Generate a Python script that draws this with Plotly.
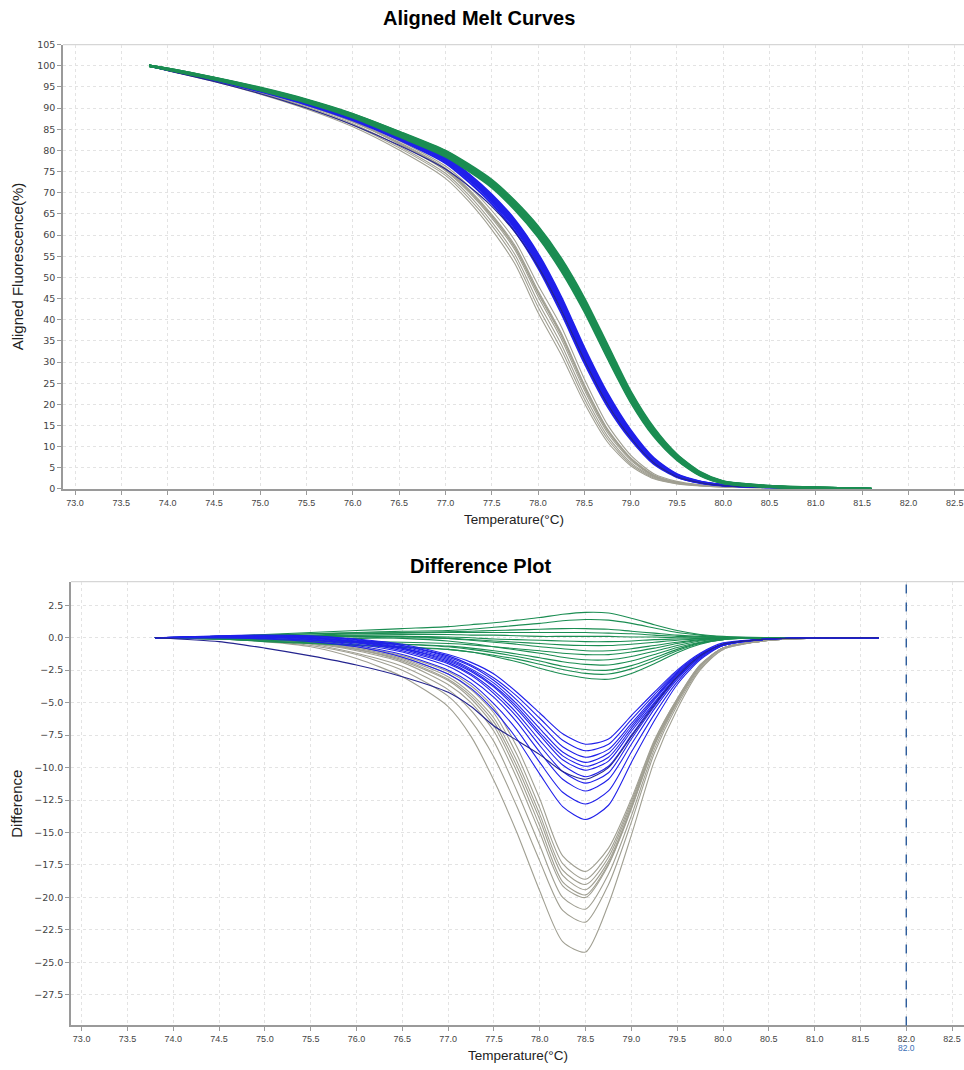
import plotly.graph_objects as go

# ---------------- data ----------------
# Aligned melt curves (top): temperature grid and aligned fluorescence (%)
T_MELT = [73.8, 74.0, 74.5, 75.0, 75.5, 76.0, 76.5, 77.0, 77.25, 77.5, 77.75, 78.0,
          78.25, 78.5, 78.75, 79.0, 79.25, 79.5, 79.75, 80.0, 80.5, 81.0, 81.6]

GRAY_MELT = [
    [100, 99.1, 96.8, 94.1, 91.0, 87.2, 82.3, 76.3, 71.6, 65.8, 58.7, 48.2, 38.4, 26.0, 15.2, 8.0, 3.6, 1.8, 1.0, 0.6, 0.4, 0.2, 0.0],
    [100, 99.0, 96.7, 94.0, 90.8, 86.9, 81.9, 75.8, 70.9, 64.9, 57.6, 46.9, 36.9, 24.7, 14.2, 7.4, 3.3, 1.6, 0.9, 0.6, 0.4, 0.2, 0.0],
    [100, 99.0, 96.6, 93.8, 90.6, 86.7, 81.5, 75.2, 70.2, 64.0, 56.5, 45.5, 35.5, 23.4, 13.3, 6.8, 3.0, 1.5, 0.9, 0.6, 0.4, 0.2, 0.0],
    [100, 98.9, 96.5, 93.6, 90.3, 86.3, 81.0, 74.6, 69.5, 63.1, 55.4, 44.2, 34.2, 22.3, 12.5, 6.3, 2.8, 1.4, 0.8, 0.5, 0.3, 0.2, 0.0],
    [100, 98.9, 96.4, 93.5, 90.1, 86.0, 80.6, 74.1, 68.8, 62.3, 54.4, 43.0, 33.0, 21.3, 11.8, 5.9, 2.6, 1.3, 0.8, 0.5, 0.3, 0.2, 0.0],
    [100, 99.0, 96.6, 93.9, 90.7, 86.8, 81.7, 75.5, 70.5, 64.4, 57.0, 46.2, 36.2, 24.0, 13.8, 7.1, 3.1, 1.5, 0.9, 0.6, 0.4, 0.2, 0.0],
    [100, 98.8, 96.3, 93.3, 89.8, 85.6, 80.1, 73.4, 68.0, 61.3, 53.2, 41.7, 31.7, 20.3, 11.1, 5.5, 2.4, 1.2, 0.7, 0.5, 0.3, 0.2, 0.0],
    [100, 99.0, 96.7, 93.9, 90.7, 86.8, 81.7, 75.6, 70.7, 64.6, 57.2, 46.5, 36.6, 24.4, 14.0, 7.2, 3.2, 1.6, 0.9, 0.6, 0.4, 0.2, 0.0],
]

BLUE_MELT = [
    [100, 99.2, 97.0, 94.5, 91.6, 88.1, 83.7, 78.6, 74.5, 69.6, 63.6, 55.6, 45.4, 33.4, 22.6, 13.9, 7.3, 3.5, 1.8, 1.0, 0.5, 0.25, 0.0],
    [100, 99.1, 96.9, 94.3, 91.4, 87.8, 83.4, 78.2, 74.1, 69.1, 63.0, 54.8, 44.5, 32.5, 21.8, 13.3, 6.9, 3.3, 1.7, 0.9, 0.5, 0.25, 0.0],
    [100, 99.1, 96.8, 94.2, 91.2, 87.6, 83.1, 77.8, 73.6, 68.5, 62.3, 54.0, 43.5, 31.5, 21.0, 12.8, 6.6, 3.1, 1.6, 0.9, 0.5, 0.25, 0.0],
    [100, 99.1, 96.7, 94.0, 91.0, 87.3, 82.8, 77.4, 73.1, 68.0, 61.6, 53.1, 42.5, 30.6, 20.2, 12.2, 6.2, 2.9, 1.5, 0.8, 0.4, 0.2, 0.0],
    [100, 99.0, 96.6, 93.9, 90.8, 87.1, 82.5, 77.0, 72.6, 67.4, 60.9, 52.3, 41.6, 29.8, 19.5, 11.7, 5.9, 2.8, 1.4, 0.8, 0.4, 0.2, 0.0],
    [100, 99.1, 96.9, 94.4, 91.5, 87.9, 83.5, 78.4, 74.3, 69.3, 63.3, 55.2, 44.9, 32.9, 22.2, 13.6, 7.1, 3.4, 1.7, 1.0, 0.5, 0.25, 0.0],
    [100, 99.0, 96.7, 94.1, 91.1, 87.4, 82.9, 77.6, 73.3, 68.2, 61.9, 53.5, 43.0, 31.0, 20.6, 12.5, 6.4, 3.0, 1.5, 0.9, 0.4, 0.2, 0.0],
    [100, 99.1, 96.8, 94.2, 91.3, 87.7, 83.3, 78.0, 73.8, 68.8, 62.6, 54.4, 44.0, 32.0, 21.4, 13.0, 6.8, 3.2, 1.6, 0.9, 0.5, 0.25, 0.0],
]
NAVY_MELT = [
    [100, 98.9, 96.3, 93.4, 90.0, 86.0, 81.2, 75.6, 71.6, 66.8, 60.7, 52.6, 42.3, 30.5, 20.1, 12.1, 6.2, 2.9, 1.5, 0.8, 0.4, 0.2, 0.0],
]

GREEN_MELT = [
    [100, 99.3, 97.2, 94.8, 92.0, 88.6, 84.4, 79.9, 76.7, 73.0, 68.0, 62.0, 54.4, 45.0, 34.0, 23.0, 14.4, 8.1, 4.0, 1.8, 0.7, 0.3, 0.0],
    [100, 99.3, 97.1, 94.7, 91.9, 88.4, 84.2, 79.6, 76.4, 72.6, 67.5, 61.4, 53.7, 44.2, 33.2, 22.4, 13.9, 7.8, 3.8, 1.7, 0.6, 0.3, 0.0],
    [100, 99.2, 97.0, 94.5, 91.7, 88.2, 83.9, 79.3, 76.0, 72.2, 67.0, 60.8, 53.0, 43.5, 32.5, 21.8, 13.5, 7.5, 3.6, 1.6, 0.6, 0.3, 0.0],
    [100, 99.2, 96.9, 94.4, 91.5, 88.0, 83.6, 79.0, 75.6, 71.8, 66.5, 60.2, 52.3, 42.8, 31.8, 21.2, 13.0, 7.2, 3.4, 1.5, 0.6, 0.3, 0.0],
    [100, 99.1, 96.8, 94.2, 91.3, 87.8, 83.3, 78.6, 75.2, 71.3, 66.0, 59.6, 51.6, 42.0, 31.0, 20.6, 12.5, 6.9, 3.2, 1.4, 0.5, 0.2, 0.0],
    [100, 99.2, 97.0, 94.6, 91.8, 88.3, 84.0, 79.4, 76.2, 72.4, 67.3, 61.1, 53.4, 43.9, 32.9, 22.1, 13.7, 7.6, 3.7, 1.6, 0.6, 0.3, 0.0],
    [100, 99.1, 96.9, 94.3, 91.4, 87.9, 83.5, 78.8, 75.4, 71.6, 66.3, 59.9, 52.0, 42.4, 31.4, 20.9, 12.8, 7.0, 3.3, 1.4, 0.5, 0.2, 0.0],
    [100, 99.3, 97.1, 94.6, 91.9, 88.5, 84.3, 79.8, 76.5, 72.8, 67.8, 61.7, 54.0, 44.6, 33.6, 22.7, 14.1, 8.0, 3.9, 1.7, 0.7, 0.3, 0.0],
]

# Difference plot (bottom)
T_DIFF = [73.8, 74.5, 75.0, 75.5, 76.0, 76.5, 77.0, 77.25, 77.5, 77.75, 78.0, 78.25,
          78.5, 78.75, 79.0, 79.25, 79.5, 79.75, 80.0, 80.5, 81.0, 81.7]

GRAY_DIFF = [
    [0, -0.1, -0.3, -0.7, -1.6, -3.0, -5.3, -7.6, -11.0, -15.0, -19.5, -23.4, -24.2, -20.5, -15.2, -9.5, -5.5, -2.5, -0.9, -0.2, -0.03, 0],
    [0, -0.1, -0.25, -0.6, -1.3, -2.5, -4.5, -6.4, -9.2, -13.0, -17.2, -21.0, -21.9, -19.0, -14.2, -8.9, -5.2, -2.4, -0.9, -0.2, -0.03, 0],
    [0, -0.1, -0.2, -0.5, -1.2, -2.2, -4.0, -5.6, -8.0, -11.8, -16.0, -20.0, -20.9, -18.2, -13.7, -8.6, -5.0, -2.3, -0.8, -0.2, -0.03, 0],
    [0, -0.1, -0.2, -0.45, -1.0, -1.9, -3.6, -5.0, -7.2, -10.8, -15.0, -19.1, -20.0, -17.5, -13.2, -8.3, -4.9, -2.2, -0.8, -0.2, -0.03, 0],
    [0, -0.1, -0.2, -0.4, -0.9, -1.8, -3.3, -4.7, -6.8, -10.3, -14.5, -18.8, -19.8, -17.4, -13.1, -8.3, -4.9, -2.2, -0.8, -0.2, -0.03, 0],
    [0, -0.05, -0.15, -0.4, -0.9, -1.7, -3.2, -4.5, -6.5, -9.9, -14.0, -18.3, -19.4, -17.2, -13.0, -8.2, -4.8, -2.2, -0.8, -0.2, -0.03, 0],
    [0, -0.05, -0.15, -0.35, -0.8, -1.6, -3.0, -4.3, -6.2, -9.5, -13.6, -17.9, -19.0, -16.9, -12.8, -8.1, -4.8, -2.2, -0.8, -0.2, -0.03, 0],
    [0, -0.05, -0.1, -0.3, -0.7, -1.5, -2.8, -4.0, -5.8, -9.0, -13.1, -17.4, -18.6, -16.6, -12.6, -8.0, -4.7, -2.1, -0.8, -0.2, -0.03, 0],
    [0, -0.05, -0.1, -0.3, -0.7, -1.4, -2.6, -3.7, -5.4, -8.4, -12.4, -16.8, -18.0, -16.2, -12.4, -7.9, -4.7, -2.1, -0.8, -0.2, -0.03, 0],
]

BLUE_DIFF = [
    [0, 0.15, 0.2, 0.15, -0.1, -0.5, -1.3, -1.9, -2.8, -4.2, -5.8, -7.4, -8.2, -7.8, -6.0, -4.2, -2.5, -1.2, -0.4, -0.1, -0.02, 0],
    [0, 0.1, 0.15, 0.1, -0.15, -0.6, -1.4, -2.1, -3.1, -4.5, -6.2, -7.9, -8.7, -8.2, -6.3, -4.4, -2.6, -1.3, -0.5, -0.1, -0.02, 0],
    [0, 0.1, 0.15, 0.05, -0.2, -0.6, -1.5, -2.2, -3.3, -4.8, -6.6, -8.4, -9.2, -8.6, -6.6, -4.6, -2.7, -1.3, -0.5, -0.1, -0.02, 0],
    [0, 0.1, 0.1, 0.0, -0.25, -0.7, -1.6, -2.4, -3.5, -5.1, -7.0, -8.8, -9.6, -8.9, -6.8, -4.7, -2.8, -1.3, -0.5, -0.1, -0.02, 0],
    [0, 0.05, 0.1, 0.0, -0.3, -0.8, -1.7, -2.5, -3.7, -5.3, -7.3, -9.1, -9.9, -9.2, -7.0, -4.8, -2.8, -1.4, -0.5, -0.1, -0.02, 0],
    [0, 0.1, 0.1, 0.0, -0.3, -0.8, -1.8, -2.6, -3.8, -5.5, -7.5, -9.4, -10.2, -9.5, -7.2, -5.0, -2.9, -1.4, -0.5, -0.1, -0.02, 0],
    [0, 0.05, 0.05, -0.05, -0.35, -0.9, -1.9, -2.8, -4.1, -5.8, -7.9, -9.8, -10.7, -9.9, -7.5, -5.1, -3.0, -1.4, -0.5, -0.1, -0.02, 0],
    [0, 0.05, 0.05, -0.1, -0.4, -1.0, -2.0, -2.9, -4.3, -6.1, -8.3, -10.3, -11.2, -10.4, -7.8, -5.3, -3.1, -1.5, -0.6, -0.1, -0.02, 0],
    [0, 0.0, 0.0, -0.15, -0.5, -1.1, -2.2, -3.2, -4.6, -6.5, -8.8, -10.9, -11.8, -10.9, -8.2, -5.5, -3.2, -1.5, -0.6, -0.1, -0.02, 0],
    [0, 0.0, -0.05, -0.2, -0.6, -1.3, -2.5, -3.5, -5.1, -7.1, -9.6, -11.9, -12.8, -11.8, -8.8, -5.9, -3.4, -1.6, -0.6, -0.1, -0.02, 0],
    [0, 0.0, -0.1, -0.3, -0.7, -1.5, -2.8, -3.9, -5.6, -7.8, -10.5, -13.0, -14.0, -12.9, -9.6, -6.4, -3.6, -1.7, -0.6, -0.1, -0.02, 0],
]
NAVY_DIFF = [
    [0, -0.3, -0.8, -1.4, -2.1, -3.0, -4.2, -5.3, -6.8, -7.9, -9.0, -10.3, -10.9, -10.0, -7.6, -5.2, -3.0, -1.4, -0.5, -0.1, -0.02, 0],
]

GREEN_DIFF = [
    [0, 0.1, 0.25, 0.4, 0.55, 0.7, 0.85, 1.0, 1.15, 1.35, 1.55, 1.8, 1.95, 1.9, 1.5, 1.0, 0.55, 0.25, 0.1, 0, 0, 0],
    [0, 0.05, 0.15, 0.3, 0.4, 0.5, 0.55, 0.65, 0.8, 0.95, 1.1, 1.3, 1.4, 1.35, 1.1, 0.75, 0.4, 0.2, 0.05, 0, 0, 0],
    [0, 0.1, 0.2, 0.3, 0.35, 0.4, 0.45, 0.5, 0.55, 0.6, 0.65, 0.7, 0.7, 0.65, 0.5, 0.35, 0.2, 0.1, 0.05, 0, 0, 0],
    [0, 0.0, 0.1, 0.2, 0.3, 0.35, 0.4, 0.4, 0.4, 0.4, 0.4, 0.4, 0.4, 0.35, 0.3, 0.2, 0.1, 0.05, 0, 0, 0, 0],
    [0, 0.05, 0.1, 0.15, 0.2, 0.25, 0.25, 0.2, 0.2, 0.15, 0.1, 0.1, 0.1, 0.1, 0.05, 0.05, 0, 0, 0, 0, 0, 0],
    [0, 0.0, 0.0, 0.05, 0.1, 0.1, 0.05, 0.0, -0.1, -0.15, -0.2, -0.25, -0.3, -0.3, -0.25, -0.15, -0.1, -0.05, 0, 0, 0, 0],
    [0, -0.05, -0.1, -0.1, -0.05, 0.0, -0.05, -0.15, -0.25, -0.35, -0.45, -0.55, -0.6, -0.6, -0.5, -0.35, -0.2, -0.1, 0, 0, 0, 0],
    [0, 0.05, 0.05, 0.1, 0.15, 0.1, -0.05, -0.2, -0.35, -0.5, -0.7, -0.85, -1.0, -1.0, -0.85, -0.6, -0.35, -0.15, -0.05, 0, 0, 0],
    [0, -0.05, -0.1, -0.2, -0.3, -0.35, -0.45, -0.55, -0.7, -0.85, -1.0, -1.2, -1.3, -1.3, -1.1, -0.8, -0.45, -0.2, -0.05, 0, 0, 0],
    [0, 0.05, 0.1, 0.1, 0.05, -0.05, -0.25, -0.45, -0.7, -0.95, -1.2, -1.5, -1.7, -1.7, -1.45, -1.05, -0.6, -0.25, -0.1, 0, 0, 0],
    [0, -0.1, -0.2, -0.3, -0.4, -0.5, -0.65, -0.8, -1.0, -1.25, -1.55, -1.85, -2.05, -2.1, -1.8, -1.3, -0.75, -0.35, -0.1, 0, 0, 0],
    [0, -0.05, -0.15, -0.25, -0.35, -0.5, -0.7, -0.9, -1.15, -1.45, -1.8, -2.2, -2.45, -2.5, -2.15, -1.55, -0.9, -0.4, -0.15, 0, 0, 0],
    [0, -0.1, -0.25, -0.4, -0.55, -0.7, -0.9, -1.1, -1.35, -1.65, -2.05, -2.45, -2.75, -2.8, -2.4, -1.75, -1.0, -0.45, -0.15, 0, 0, 0],
    [0, -0.1, -0.3, -0.45, -0.6, -0.75, -0.9, -1.1, -1.45, -1.85, -2.35, -2.8, -3.1, -3.2, -2.75, -2.0, -1.15, -0.5, -0.15, 0, 0, 0],
]

X_TICKS = [73.0, 73.5, 74.0, 74.5, 75.0, 75.5, 76.0, 76.5, 77.0, 77.5, 78.0,
           78.5, 79.0, 79.5, 80.0, 80.5, 81.0, 81.5, 82.0, 82.5]
MELT_Y_TICKS = [0, 5, 10, 15, 20, 25, 30, 35, 40, 45, 50, 55, 60, 65, 70, 75, 80, 85, 90, 95, 100, 105]
DIFF_Y_TICKS = [2.5, 0.0, -2.5, -5.0, -7.5, -10.0, -12.5, -15.0, -17.5, -20.0, -22.5, -25.0, -27.5]
MARKER_TEMP = 82.0

# ---------------- styles ----------------
GRAY = "#a09f92"
BLUE = "#2020ea"
NAVY = "#24248f"
GREEN = "#1b8d52"

fig = go.Figure()


def add_group(xs, groups, color, width, xa, ya):
    for ys in groups:
        fig.add_trace(go.Scatter(x=xs, y=ys, mode="lines", xaxis=xa, yaxis=ya,
                                 line=dict(color=color, width=width, shape="spline", smoothing=0.7),
                                 hoverinfo="skip", showlegend=False))


add_group(T_MELT, GRAY_MELT, GRAY, 1.1, "x", "y")
add_group(T_MELT, BLUE_MELT, BLUE, 2.0, "x", "y")
add_group(T_MELT, NAVY_MELT, NAVY, 1.1, "x", "y")
add_group(T_MELT, GREEN_MELT, GREEN, 2.4, "x", "y")

add_group(T_DIFF, GRAY_DIFF, GRAY, 1.1, "x2", "y2")
add_group(T_DIFF, GREEN_DIFF, GREEN, 1.1, "x2", "y2")
add_group(T_DIFF, BLUE_DIFF, BLUE, 1.1, "x2", "y2")
add_group(T_DIFF, NAVY_DIFF, NAVY, 1.1, "x2", "y2")

W, H = 964, 1070
tickfont_x = dict(family="Liberation Sans, Arial, sans-serif", size=9, color="#444")
tickfont_y = dict(family="DejaVu Sans, sans-serif", size=9.5, color="#444")
axis_common = dict(showline=True, linecolor="#9a9a9a", linewidth=1.6,
                   ticks="outside", ticklen=4, tickcolor="#9a9a9a",
                   showgrid=True, gridcolor="#e3e3e3", griddash="3px,3px", gridwidth=1,
                   zeroline=False)

fig.update_layout(
    width=W, height=H, autosize=False,
    margin=dict(l=0, r=0, t=0, b=0),
    paper_bgcolor="white", plot_bgcolor="white",
    showlegend=False, hovermode=False,
    xaxis=dict(domain=[63 / W, 1.0], range=[72.87, 82.60], tickvals=X_TICKS,
               tickformat=".1f", tickfont=tickfont_x, anchor="y", **axis_common),
    yaxis=dict(domain=[1 - 488 / H, 1 - 39 / H], range=[0, 105], tickvals=MELT_Y_TICKS,
               tickfont=tickfont_y, anchor="x", **axis_common),
    xaxis2=dict(domain=[71 / W, 1.0], range=[72.884, 82.63], tickvals=X_TICKS,
                tickformat=".1f", tickfont=tickfont_x, anchor="y2", **axis_common),
    yaxis2=dict(domain=[1 - 1030 / H, 1 - 581.7 / H], range=[-29.85, 4.31], tickvals=DIFF_Y_TICKS,
                tickformat=".1f", tickfont=tickfont_y, anchor="x2", **axis_common),
)

# light top borders of the plot areas
for xr, yr in (("x", "y"), ("x2", "y2")):
    fig.add_shape(type="line", xref=f"{xr} domain", yref=f"{yr} domain",
                  x0=0, x1=1, y0=1, y1=1, line=dict(color="#d6d6d6", width=1.2), layer="below")

# dashed marker line on difference plot
fig.add_shape(type="line", xref="x2", yref="y2 domain", x0=MARKER_TEMP, x1=MARKER_TEMP,
              y0=0, y1=1, line=dict(color="#2a5a9a", width=1.4, dash="dash"))
fig.add_annotation(x=MARKER_TEMP, xref="x2", y=1 - 1053 / H, yref="paper",
                   text=f"{MARKER_TEMP:.1f}", showarrow=False, yanchor="middle",
                   borderpad=0,
                   font=dict(family="Liberation Sans, Arial", size=8.5, color="#3b6fb5"))

title_font = dict(family="Liberation Sans, Arial, sans-serif", size=20, color="#000")
axis_title_font = dict(family="Liberation Sans, Arial, sans-serif", size=13.5, color="#222")
ytitle_font = dict(family="Liberation Sans, Arial, sans-serif", size=15, color="#222")

fig.add_annotation(text="<b>Aligned Melt Curves</b>", x=479 / W, y=1 - 12 / H, xref="paper", yref="paper",
                   showarrow=False, font=title_font, xanchor="center", yanchor="middle")
fig.add_annotation(text="<b>Difference Plot</b>", x=480 / W, y=1 - 566 / H, xref="paper", yref="paper",
                   showarrow=False, font=title_font, xanchor="center", yanchor="middle")
fig.add_annotation(text="Temperature(°C)", x=(63 + W) / 2 / W, y=1 - 519 / H, xref="paper", yref="paper",
                   showarrow=False, font=axis_title_font, xanchor="center", yanchor="middle")
fig.add_annotation(text="Temperature(°C)", x=(71 + W) / 2 / W, y=1 - 1060 / H, xref="paper", yref="paper",
                   showarrow=False, font=axis_title_font, xanchor="center", yanchor="middle")
fig.add_annotation(text="Aligned Fluorescence(%)", x=17 / W, y=1 - 263 / H, xref="paper", yref="paper",
                   showarrow=False, font=ytitle_font, textangle=-90, xanchor="center", yanchor="middle")
fig.add_annotation(text="Difference", x=17 / W, y=1 - 806 / H, xref="paper", yref="paper",
                   showarrow=False, font=ytitle_font, textangle=-90, xanchor="center", yanchor="middle")

fig.write_html("out.html", config={"displayModeBar": False})
